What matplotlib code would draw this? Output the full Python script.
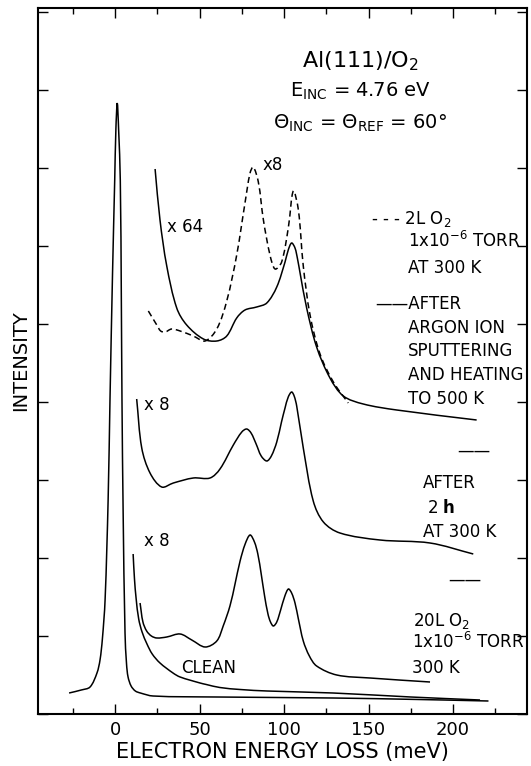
import numpy as np
import matplotlib
matplotlib.use('Agg')
import matplotlib.pyplot as plt
from matplotlib.path import Path
from matplotlib.patches import PathPatch
from matplotlib.ticker import MultipleLocator

plt.rcParams['font.family'] = 'DejaVu Sans'
plt.rcParams['mathtext.default'] = 'regular'

# elastic peak + tail (energy loss in meV, intensity in arbitrary units)
elastic_x = [-27.2, -20, -14.8, -10.7, -8.9, -7.5, -5.9, -4.1, -3.0, -1.5, -0.2, 0.5, 1.3,
             2.1, 3.1, 3.7, 4.1, 4.8, 5.9, 6.8, 7.7, 9.5, 12, 15, 22.5, 60, 129, 180, 221]
elastic_y = [21, 24, 27, 41, 54, 75, 114, 214, 314, 440, 534, 585, 611,
             585, 534, 420, 314, 200, 81, 50, 37, 28, 23, 21, 18, 17, 16, 14.5, 13]

# clean surface, x8
clean_x = [10.7, 11.5, 12.5, 14, 16, 18.9, 22, 26.6, 34.3, 38.5, 50.3, 54, 62, 74, 90, 129, 175, 216]
clean_y = [160, 135, 115, 95, 82, 70, 60, 51, 41, 37, 31, 29.5, 26.5, 24.5, 23, 21, 17, 14]

# 20 L O2, x8
o2_20_x = [14.8, 16.5, 18.7, 21.5, 24.7, 30.6, 38.5, 45.4, 53.3, 60.2, 64, 68, 71, 74, 77, 79.9,
           82.5, 84.5, 86.5, 88.5, 90.5, 92, 93.7, 95.7, 98, 100.5, 102.6, 104.5, 106.5, 108.5,
           111.4, 115, 119.3, 131.2, 150.9, 186.4]
o2_20_y = [111, 92, 83, 78, 76, 77, 80, 74, 67, 73, 88, 108, 130, 153, 170, 179,
           172, 160, 140, 118, 100, 92, 88, 92, 104, 118, 125, 121, 111, 95,
           73, 58, 48, 39, 36, 32]

# after 2 h at 300 K, x8
after2h_x = [12.8, 15.8, 20.7, 27.6, 34.5, 46.3, 56.2, 62.1, 70, 75, 77.9, 80.5, 83.5, 86.5,
             89.8, 92.5, 95.7, 98.5, 100.6, 102.5, 104.5, 106, 107.5, 111.4, 117.3, 123.3,
             133.1, 156.8, 186.4, 212]
after2h_y = [315, 266, 241, 227, 231, 236, 236, 245, 269, 282, 285, 281, 270, 258,
             253, 258, 272, 292, 306, 317, 322, 318, 308, 266, 213, 192,
             181, 174, 171, 160]

# after argon ion sputtering and heating, x64
sputter_x = [23.7, 26.6, 30.6, 36.5, 42.4, 52.3, 60.2, 66.1, 72, 76.9, 83.8, 89.8, 95.7,
             100.6, 102.5, 104.5, 106.5, 108, 109.5, 113.4, 119.3, 127.2, 135.1, 146.9, 166.7, 214]
sputter_y = [545, 494, 448, 406, 389, 375, 373, 378, 396, 404, 407, 411, 427,
             452, 464, 471, 466, 455, 441, 406, 367, 336, 318, 310, 304, 294]

# 2 L O2, dashed, x8
o2_2_x = [19.7, 24.7, 27, 29.6, 33.5, 38.5, 46.3, 53.3, 60.2, 66.1, 72, 76.9, 79.9, 81.8,
          84.8, 87.8, 91.7, 94.7, 98.6, 102.6, 105.5, 108.5, 111.4, 115.4, 121.3, 129.2, 138]
o2_2_y = [403, 389, 383, 382, 385, 383, 378, 373, 385, 413, 459, 511, 541, 547,
          532, 494, 459, 445, 452, 487, 523, 504, 448, 399, 360, 332, 311]

x_ticks = [0, 50, 100, 150, 200]

SX = 1.69  # rough aspect (display px per meV) used only for smoothing the trace


def trace(ax, xs, ys, **kw):
    # draw a smooth curve through the read points (cubic bezier segments)
    pts = np.column_stack([np.asarray(xs, float) * SX, np.asarray(ys, float)])
    seg = np.linalg.norm(np.diff(pts, axis=0), axis=1)
    n = len(pts)
    verts = [pts[0]]
    codes = [Path.MOVETO]
    for i in range(n - 1):
        if i == 0:
            t0 = (pts[1] - pts[0])
        else:
            t0 = (pts[i + 1] - pts[i - 1]) * seg[i] / (seg[i - 1] + seg[i])
        if i + 1 == n - 1:
            t1 = (pts[i + 1] - pts[i])
        else:
            t1 = (pts[i + 2] - pts[i]) * seg[i] / (seg[i] + seg[i + 1])
        verts += [pts[i] + t0 / 3, pts[i + 1] - t1 / 3, pts[i + 1]]
        codes += [Path.CURVE4] * 3
    verts = np.array(verts)
    verts[:, 0] /= SX
    ax.add_patch(PathPatch(Path(verts, codes), fill=False, **kw))


fig = plt.figure(figsize=(5.31, 7.66), dpi=100)
ax = fig.add_axes([38 / 531, 52 / 766, 489 / 531, 706 / 766])

lw = 1.1
trace(ax, elastic_x, elastic_y, color='k', lw=lw)
trace(ax, clean_x, clean_y, color='k', lw=lw)
trace(ax, o2_20_x, o2_20_y, color='k', lw=lw)
trace(ax, after2h_x, after2h_y, color='k', lw=lw)
trace(ax, sputter_x, sputter_y, color='k', lw=lw)
trace(ax, o2_2_x, o2_2_y, color='k', lw=lw, linestyle=(0, (4, 2.5)))

ax.set_xlim(-45.6, 243.8)
ax.set_ylim(0, 706)
ax.set_xticks(x_ticks)
ax.xaxis.set_minor_locator(MultipleLocator(25))
ax.yaxis.set_major_locator(MultipleLocator(78))
ax.set_yticklabels([])
ax.tick_params(which='both', direction='in', top=True, right=True, width=1)
ax.tick_params(which='major', length=7, labelsize=13, pad=5)
ax.tick_params(which='minor', length=4)
for s in ax.spines.values():
    s.set_linewidth(1.5)

ax.set_xlabel('ELECTRON ENERGY LOSS (meV)', fontsize=15, labelpad=2)
ax.set_ylabel('INTENSITY', fontsize=14, labelpad=1)

# header
ax.text(145, 647, 'Al(111)/O$_2$', fontsize=16, ha='center', va='baseline')
ax.text(145, 617, 'E$_{INC}$ = 4.76 eV', fontsize=14, ha='center', va='baseline')
ax.text(145, 585, 'Θ$_{INC}$ = Θ$_{REF}$ = 60°', fontsize=14, ha='center', va='baseline')

# scale factors
ax.text(93.5, 549, 'x8', fontsize=12, ha='center', va='center')
ax.text(41.4, 487, 'x 64', fontsize=12, ha='center', va='center')
ax.text(24.9, 309, 'x 8', fontsize=12, ha='center', va='center')
ax.text(24.9, 173, 'x 8', fontsize=12, ha='center', va='center')
ax.text(55.6, 46, 'CLEAN', fontsize=12, ha='center', va='center')

# labels at right
fs = 12
ax.text(151.5, 490, '- - - 2L O$_2$', fontsize=fs, va='baseline')
ax.text(173.4, 467, '1x10$^{-6}$ TORR', fontsize=fs, va='baseline')
ax.text(173.4, 441, 'AT 300 K', fontsize=fs, va='baseline')
ax.text(153.8, 405, '——AFTER', fontsize=fs, va='baseline')
ax.text(173.4, 381, 'ARGON ION', fontsize=fs, va='baseline')
ax.text(173.4, 358, 'SPUTTERING', fontsize=fs, va='baseline')
ax.text(173.4, 334, 'AND HEATING', fontsize=fs, va='baseline')
ax.text(173.4, 310, 'TO 500 K', fontsize=fs, va='baseline')

ax.text(202.4, 263, '——', fontsize=fs, va='center')
ax.text(182.2, 226, 'AFTER', fontsize=fs, va='baseline')
ax.text(184.6, 201, '2 $\\mathbf{h}$', fontsize=fs, va='baseline')
ax.text(182.2, 177, 'AT 300 K', fontsize=fs, va='baseline')

ax.text(197, 134, '——', fontsize=fs, va='center')
ax.text(176.3, 88, '20L O$_2$', fontsize=fs, va='baseline')
ax.text(175.7, 66, '1x10$^{-6}$ TORR', fontsize=fs, va='baseline')
ax.text(175.7, 41, '300 K', fontsize=fs, va='baseline')

fig.savefig('out.png', dpi=100)
